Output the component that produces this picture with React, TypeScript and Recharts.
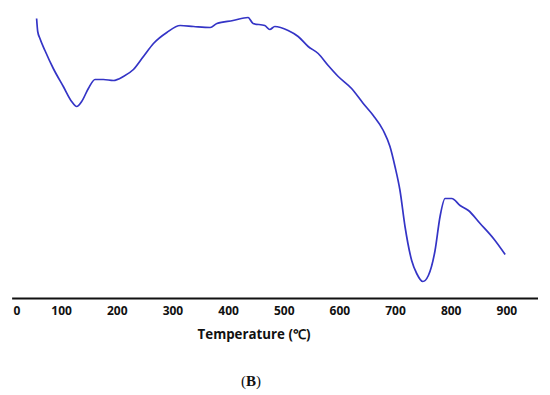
import React from 'react';
import { LineChart, Line, XAxis, YAxis, ReferenceLine } from 'recharts';

// Temperature (°C) readings
const temperature = [55, 57, 61, 70, 85, 103, 118, 127, 136, 148, 160, 175, 193, 211, 229, 247, 265, 289, 313, 337, 367, 379, 408, 435, 444, 465, 474, 483, 507, 525, 543, 561, 579, 597, 621, 642, 660, 678, 690, 699, 708, 717, 729, 738, 749, 759, 771, 780, 789, 801, 816, 831, 852, 876, 897];
// DTA signal (arbitrary units)
const signal = [280, 267, 260, 248, 230, 212, 197, 192, 197, 210, 219, 219, 218, 222, 229, 242, 255, 266, 273, 272, 271, 275, 278, 281, 275, 273, 269, 272, 268, 262, 252, 245, 233, 222, 210, 195, 183, 168, 152, 132, 108, 72, 38, 25, 17, 23, 48, 82, 100, 100, 93, 88, 75, 60, 44];
const xTicks = [0, 100, 200, 300, 400, 500, 600, 700, 800, 900];

const data = temperature.map((t, i) => ({ t, s: signal[i] }));

const Tick = (props: any) => {
  const { x, y, payload } = props;
  const shift = payload.value === 0 ? 11 : 0;
  return (
    <text x={x + shift} y={y} dy="0.71em" textAnchor="middle" fontFamily="'Open Sans', sans-serif" fontWeight="bold" fontSize={12} fill="#111">
      {payload.value}
    </text>
  );
};

export default function App() {
  return (
    <div style={{ position: 'absolute', left: 0, top: 0, width: 550, height: 395, background: '#fff' }}>
      <LineChart width={550} height={395} data={data} margin={{ top: 0, right: 12, bottom: 66.5, left: 6 }}>
        <XAxis dataKey="t" type="number" domain={[0, 956]} ticks={xTicks} axisLine={false} tickLine={false} tick={<Tick />} height={30} interval={0} />
        <YAxis type="number" domain={[0, 298.5]} hide />
        <ReferenceLine segment={[{ x: 11, y: 0 }, { x: 956, y: 0 }]} stroke="#111" strokeWidth={2} ifOverflow="visible" />
        <Line type="monotone" dataKey="s" stroke="#3434c6" strokeWidth={1.7} dot={false} isAnimationActive={false} />
      </LineChart>
      <div style={{ position: 'absolute', left: 0, width: 508, top: 325, textAlign: 'center', fontFamily: "'Open Sans', sans-serif", fontWeight: 'bold', fontSize: 13.3, color: '#111', whiteSpace: 'nowrap' }}>
        Temperature (℃)
      </div>
      <div style={{ position: 'absolute', left: 0, width: 502, top: 373, textAlign: 'center', fontFamily: "'Liberation Serif', 'Times New Roman', serif", fontSize: 15, color: '#111' }}>
        (<b>B</b>)
      </div>
    </div>
  );
}
